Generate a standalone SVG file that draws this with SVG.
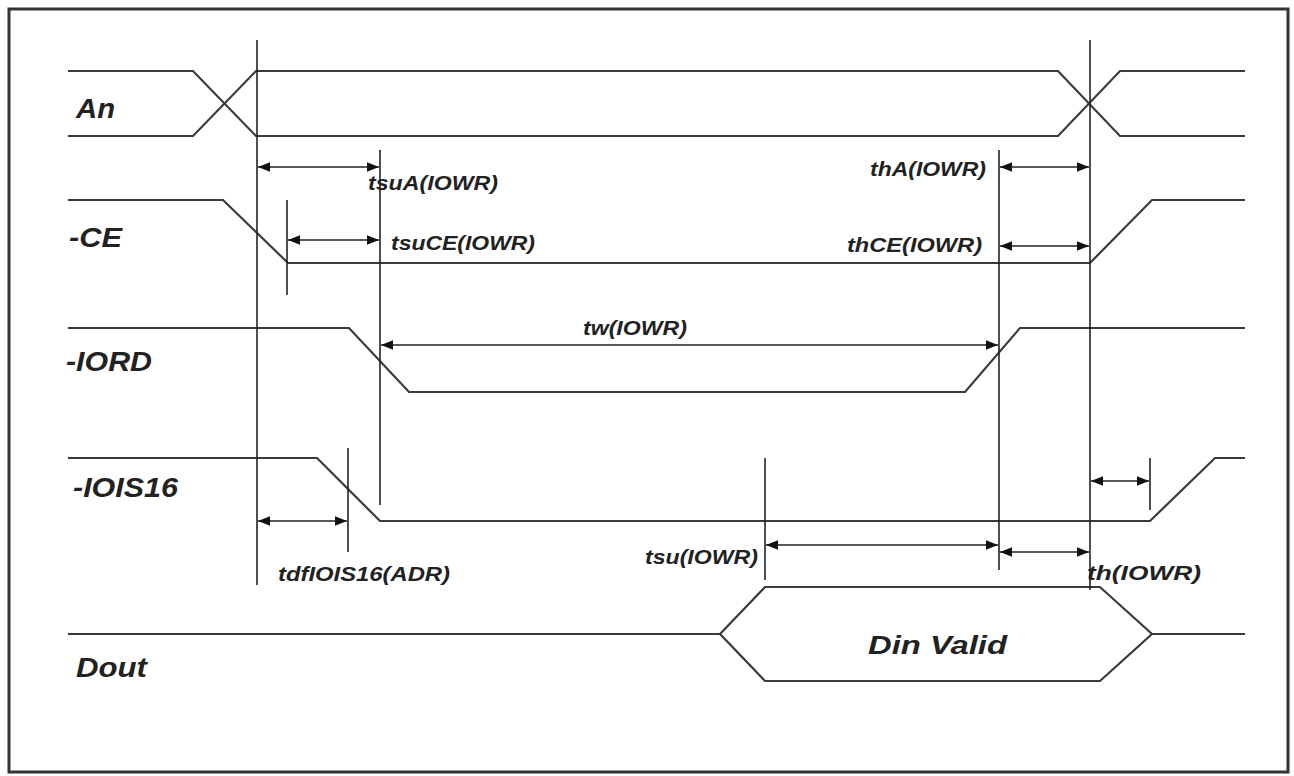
<svg xmlns="http://www.w3.org/2000/svg" width="1294" height="776" viewBox="0 0 1294 776">
<defs>
<marker id="ah" viewBox="0 0 10 10" refX="10" refY="5" markerWidth="12" markerHeight="12" markerUnits="userSpaceOnUse" orient="auto-start-reverse">
<path d="M0,1 L10,5 L0,9 Z" fill="#111"/>
</marker>
<style>
.sig{fill:none;stroke:#3a3a3a;stroke-width:2.2}
.ref{fill:none;stroke:#222;stroke-width:1.6}
.dim{fill:none;stroke:#222;stroke-width:1.6;marker-start:url(#ah);marker-end:url(#ah)}
.name{font-family:"Liberation Sans",Arial,sans-serif;font-weight:bold;font-style:italic;font-size:28px;fill:#222}
.lbl{font-family:"Liberation Sans",Arial,sans-serif;font-weight:bold;font-style:italic;font-size:20px;fill:#222}
.big{font-family:"Liberation Sans",Arial,sans-serif;font-weight:bold;font-style:italic;font-size:26px;fill:#222}
</style>
</defs>
<rect width="1294" height="776" fill="#fff"/>
<rect x="9" y="9" width="1279" height="763" fill="none" stroke="#333" stroke-width="3"/>

<g id="An">
<text class="name" x="76" y="118" textLength="39" lengthAdjust="spacingAndGlyphs">An</text>
<polyline class="sig" points="68,71 193,71 256,136 1058,136 1120,71 1245,71"/>
<polyline class="sig" points="68,136 193,136 256,71 1058,71 1120,136 1245,136"/>
</g>
<g id="CE">
<text class="name" x="69" y="247" textLength="53" lengthAdjust="spacingAndGlyphs">-CE</text>
<polyline class="sig" points="68,200 223,200 288,263 1090,263 1152,200 1245,200"/>
</g>
<g id="IORD">
<text class="name" x="66" y="371" textLength="86" lengthAdjust="spacingAndGlyphs">-IORD</text>
<polyline class="sig" points="68,328 349,328 409,392 965,392 1020,328 1245,328"/>
</g>
<g id="IOIS16">
<text class="name" x="73" y="497" textLength="105" lengthAdjust="spacingAndGlyphs">-IOIS16</text>
<polyline class="sig" points="68,458 317,458 380,521 1150,521 1215,458 1245,458"/>
</g>
<g id="Dout">
<text class="name" x="76" y="677" textLength="71" lengthAdjust="spacingAndGlyphs">Dout</text>
<polyline class="sig" points="68,634 720,634"/>
<polygon class="sig" points="720,634 765,587 1100,587 1152,634 1100,681 765,681"/>
<polyline class="sig" points="1152,634 1245,634"/>
<text class="big" x="868" y="654" textLength="139" lengthAdjust="spacingAndGlyphs">Din Valid</text>
</g>

<g id="connectors">
<line class="ref" x1="257" y1="40" x2="257" y2="585"/>
<line class="ref" x1="380" y1="150" x2="380" y2="505"/>
<line class="ref" x1="287" y1="200" x2="287" y2="295"/>
<line class="ref" x1="999" y1="150" x2="999" y2="570"/>
<line class="ref" x1="1090" y1="40" x2="1090" y2="590"/>
<line class="ref" x1="348" y1="448" x2="348" y2="552"/>
<line class="ref" x1="765" y1="458" x2="765" y2="580"/>
<line class="ref" x1="1150" y1="458" x2="1150" y2="510"/>

<line class="dim" x1="258" y1="167" x2="379" y2="167"/>
<line class="dim" x1="288" y1="240" x2="379" y2="240"/>
<line class="dim" x1="1000" y1="167" x2="1089" y2="167"/>
<line class="dim" x1="1000" y1="246" x2="1089" y2="246"/>
<line class="dim" x1="381" y1="345" x2="998" y2="345"/>
<line class="dim" x1="258" y1="521" x2="347" y2="521"/>
<line class="dim" x1="1091" y1="481" x2="1149" y2="481"/>
<line class="dim" x1="766" y1="545" x2="998" y2="545"/>
<line class="dim" x1="1000" y1="552" x2="1089" y2="552"/>
</g>

<g id="labels">
<text class="lbl" x="368" y="190" textLength="130" lengthAdjust="spacingAndGlyphs">tsuA(IOWR)</text>
<text class="lbl" x="391" y="250" textLength="144" lengthAdjust="spacingAndGlyphs">tsuCE(IOWR)</text>
<text class="lbl" x="870" y="176" textLength="116" lengthAdjust="spacingAndGlyphs">thA(IOWR)</text>
<text class="lbl" x="847" y="252" textLength="135" lengthAdjust="spacingAndGlyphs">thCE(IOWR)</text>
<text class="lbl" x="583" y="335" textLength="104" lengthAdjust="spacingAndGlyphs">tw(IOWR)</text>
<text class="lbl" x="278" y="581" textLength="172" lengthAdjust="spacingAndGlyphs">tdfIOIS16(ADR)</text>
<text class="lbl" x="645" y="564" textLength="113" lengthAdjust="spacingAndGlyphs">tsu(IOWR)</text>
<text class="lbl" x="1087" y="580" textLength="114" lengthAdjust="spacingAndGlyphs">th(IOWR)</text>
</g>
</svg>
